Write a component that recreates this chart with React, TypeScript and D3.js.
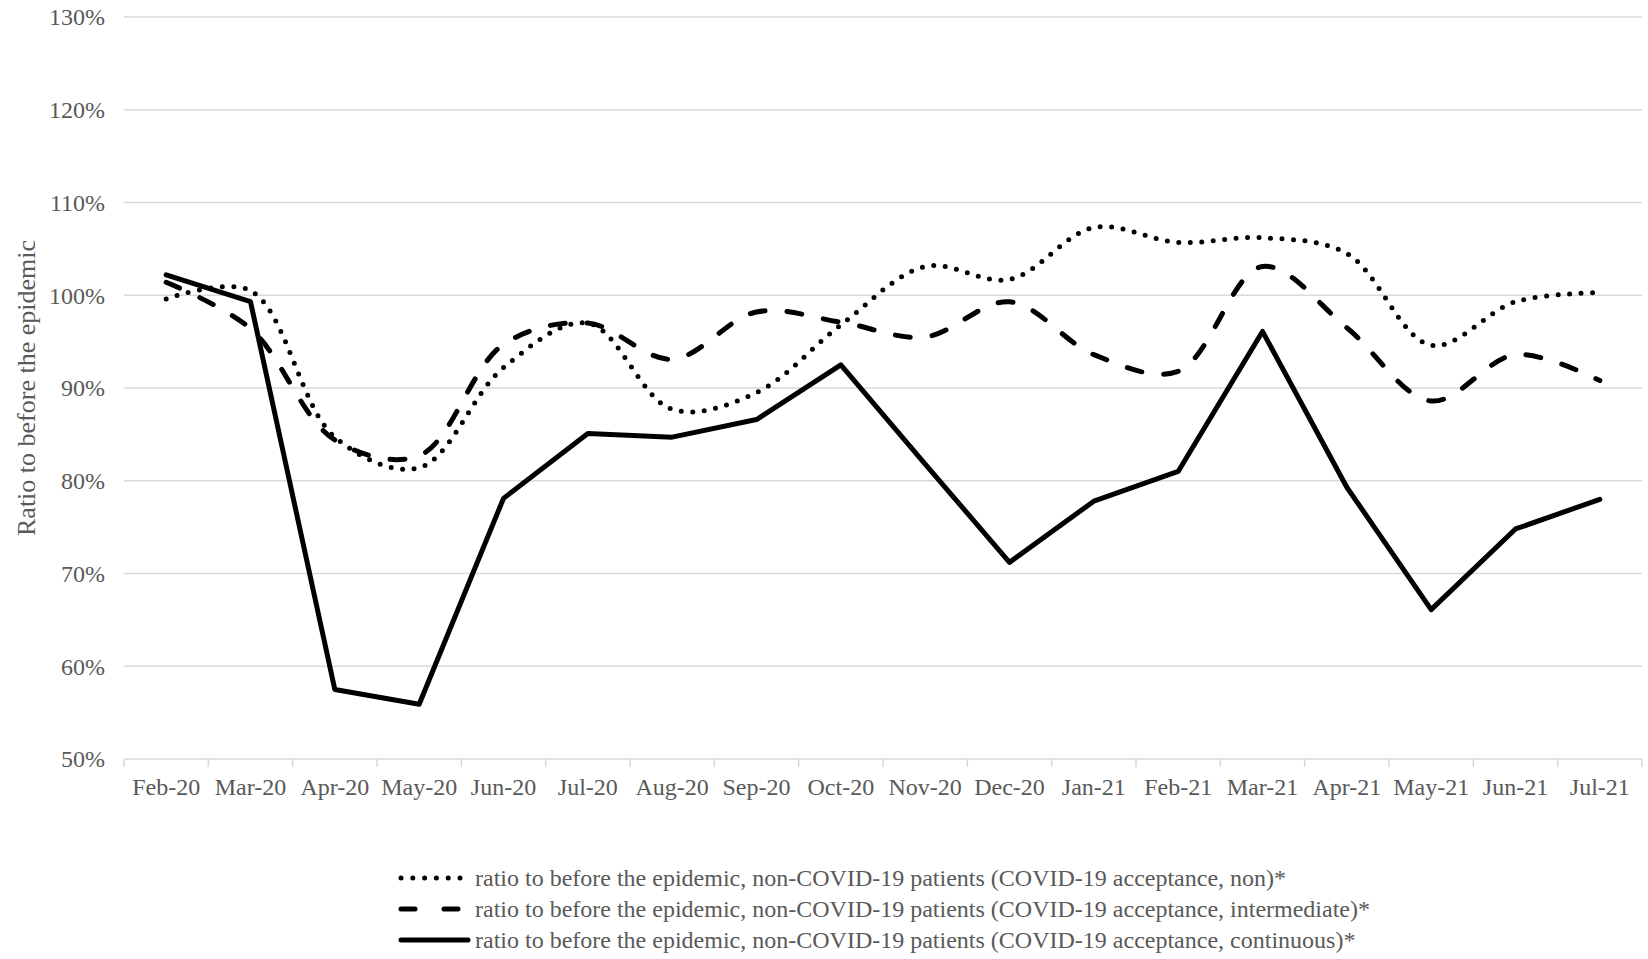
import React from "react"
import * as d3 from "d3"

const months = [
  "Feb-20", "Mar-20", "Apr-20", "May-20", "Jun-20", "Jul-20", "Aug-20", "Sep-20", "Oct-20",
  "Nov-20", "Dec-20", "Jan-21", "Feb-21", "Mar-21", "Apr-21", "May-21", "Jun-21", "Jul-21",
]

// ratio to before the epidemic (%)
const nonAcceptance = [
  99.6, 100.5, 84.7, 81.4, 92.2, 97.0, 87.7, 89.5, 96.8,
  103.1, 101.7, 107.3, 105.7, 106.2, 104.5, 94.6, 99.3, 100.3,
]
const intermediateAcceptance = [
  101.4, 96.4, 84.4, 82.7, 94.7, 97.0, 93.1, 98.2, 97.1,
  95.5, 99.3, 93.6, 91.8, 103.1, 96.5, 88.6, 93.6, 90.8,
]
const continuousAcceptance = [
  102.2, 99.3, 57.5, 55.9, 78.1, 85.1, 84.7, 86.6, 92.5,
  81.8, 71.2, 77.8, 81.0, 96.1, 79.3, 66.1, 74.8, 78.0,
]

const yTicks = [50, 60, 70, 80, 90, 100, 110, 120, 130]

const legendLabels = [
  "ratio to before the epidemic, non-COVID-19 patients (COVID-19 acceptance, non)*",
  "ratio to before the epidemic, non-COVID-19 patients (COVID-19 acceptance, intermediate)*",
  "ratio to before the epidemic, non-COVID-19 patients (COVID-19 acceptance, continuous)*",
]

const W = 1648
const H = 959
const margin = { top: 17, right: 6, bottom: 200, left: 124 }
const font = "'Liberation Serif', 'Times New Roman', serif"

export default function App() {
  const x = d3
    .scaleBand<string>()
    .domain(months)
    .range([margin.left, W - margin.right])
  const y = d3
    .scaleLinear()
    .domain([50, 130])
    .range([H - margin.bottom, margin.top])

  const cx = (i: number) => (x(months[i]) as number) + x.bandwidth() / 2

  // Excel-style smoothed lines for the dotted / dashed series
  const smooth = d3
    .line<number>()
    .x((_, i) => cx(i))
    .y((d) => y(d))
    .curve(d3.curveCatmullRom.alpha(0.5))

  const straight = d3
    .line<number>()
    .x((_, i) => cx(i))
    .y((d) => y(d))

  const series = [
    { values: nonAcceptance, line: smooth, dash: "0 11.5", legendDash: "0 11.8", label: legendLabels[0] },
    { values: intermediateAcceptance, line: smooth, dash: "15 22", legendDash: "14 29", label: legendLabels[1] },
    { values: continuousAcceptance, line: straight, dash: "none", legendDash: "none", label: legendLabels[2] },
  ]

  const yBottom = y(50)
  const legendX = 401
  const legendY0 = 878

  return (
    <svg
      width={W}
      height={H}
      style={{ position: "absolute", left: 0, top: 0, background: "#fff" }}
      fontFamily={font}
    >
      {/* gridlines */}
      {yTicks.map((t) => (
        <line
          key={t}
          x1={margin.left}
          x2={W - margin.right}
          y1={y(t)}
          y2={y(t)}
          stroke="#d9d9d9"
          strokeWidth={1.5}
        />
      ))}
      {/* x-axis ticks */}
      {[...months.map((m) => x(m) as number), W - margin.right].map((tx, i) => (
        <line
          key={i}
          x1={tx}
          x2={tx}
          y1={yBottom}
          y2={yBottom + 8}
          stroke="#d9d9d9"
          strokeWidth={1.5}
        />
      ))}
      {/* y tick labels */}
      {yTicks.map((t) => (
        <text
          key={t}
          x={105}
          y={y(t)}
          dy="0.35em"
          textAnchor="end"
          fontSize={24}
          fill="#595959"
        >
          {t}%
        </text>
      ))}
      {/* x tick labels */}
      {months.map((m, i) => (
        <text key={m} x={cx(i)} y={yBottom + 36} textAnchor="middle" fontSize={24} fill="#595959">
          {m}
        </text>
      ))}
      {/* y axis title */}
      <text
        transform={`translate(35,${(y(50) + y(130)) / 2}) rotate(-90)`}
        textAnchor="middle"
        fontSize={26}
        fill="#595959"
      >
        Ratio to before the epidemic
      </text>
      {/* lines */}
      {series.map((s, k) => (
        <path
          key={k}
          d={s.line(s.values) as string}
          fill="none"
          stroke="#000"
          strokeWidth={5}
          strokeDasharray={s.dash}
          strokeLinecap="round"
          strokeLinejoin="round"
        />
      ))}
      {/* legend */}
      {series.map((s, k) => {
        const ly = legendY0 + k * 31
        return (
          <g key={k}>
            <line
              x1={legendX}
              x2={legendX + 67}
              y1={ly}
              y2={ly}
              stroke="#000"
              strokeWidth={5}
              strokeDasharray={s.legendDash}
              strokeLinecap="round"
            />
            <text x={legendX + 74} y={ly} dy="0.35em" fontSize={24} fill="#595959">
              {s.label}
            </text>
          </g>
        )
      })}
    </svg>
  )
}
